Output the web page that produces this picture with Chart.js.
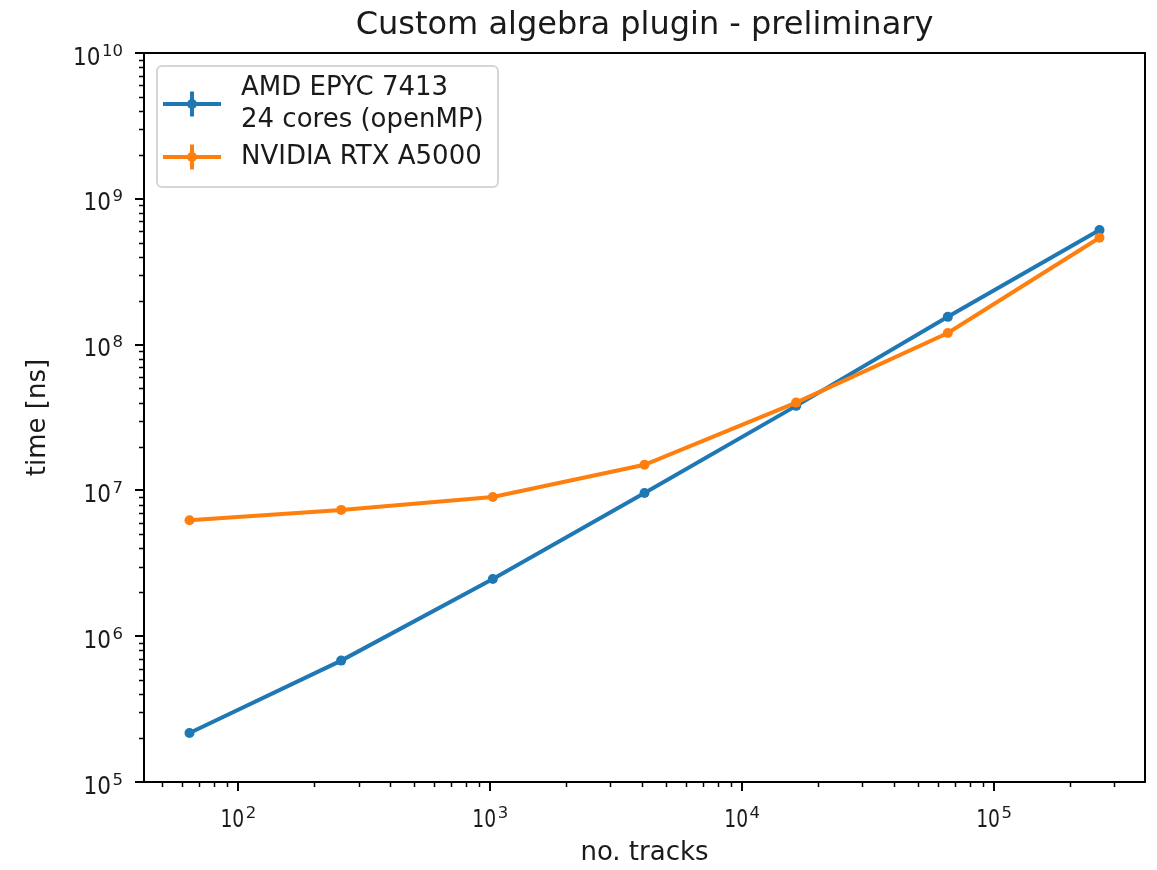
<!DOCTYPE html>
<html>
<head>
<meta charset="utf-8">
<script src="https://cdn.jsdelivr.net/npm/chart.js@4/dist/chart.umd.min.js"></script>
<style>
  html, body { margin: 0; padding: 0; background: #fff; }
  #wrap { width: 1157px; height: 870px; }
</style>
</head>
<body>
<div id="wrap"><canvas id="c" width="1157" height="870"></canvas></div>
<script>
// ---- data ----
const tracks = [64, 256, 1024, 4096, 16384, 65536, 262144];
const cpuTimes = [2.17e5, 6.8e5, 2.47e6, 9.6e6, 3.8e7, 1.55e8, 6.1e8];
const gpuTimes = [6.25e6, 7.35e6, 9.0e6, 1.5e7, 4.0e7, 1.2e8, 5.4e8];
const seriesLabels = ['AMD EPYC 7413\n24 cores (openMP)', 'NVIDIA RTX A5000'];
const xTickValues = [1e2, 1e3, 1e4, 1e5];
const xTickExponents = ['2', '3', '4', '5'];
const yTickValues = [1e5, 1e6, 1e7, 1e8, 1e9, 1e10];
const yTickExponents = ['5', '6', '7', '8', '9', '10'];
const tickBase = '10';
const titleText = 'Custom algebra plugin - preliminary';
const xTitle = 'no. tracks';
const yTitle = 'time [ns]';

// matplotlib-like 5% margin in log space for x
const lx0 = Math.log10(Math.min(...tracks)), lx1 = Math.log10(Math.max(...tracks));
const mrg = (lx1 - lx0) * 0.05;
const xMin = Math.pow(10, lx0 - mrg), xMax = Math.pow(10, lx1 + mrg);
const yMin = yTickValues[0], yMax = yTickValues[yTickValues.length - 1];

const BLUE = '#1f77b4', ORANGE = '#ff7f0e';
const FONT = "'DejaVu Sans', 'Liberation Sans', sans-serif";
const TXT = '#1a1a1a';

const toPts = (xs, ys) => xs.map((x, i) => ({ x: x, y: ys[i] }));

// draw "10^e" label; anchor: 'center' (x axis) or 'right' (y axis)
function drawPow(ctx, x, baseline, exp, anchor, sx) {
  ctx.font = '24px ' + FONT;
  const bw = ctx.measureText(tickBase).width * sx;
  ctx.font = '16.5px ' + FONT;
  const ew = ctx.measureText(exp).width;
  const gap = 1.5;
  const total = bw + gap + ew;
  const left = anchor === 'center' ? x - total / 2 : x - total;
  ctx.save();
  ctx.translate(left, baseline);
  ctx.scale(sx, 1);
  ctx.font = '24px ' + FONT;
  ctx.fillText(tickBase, 0, 0);
  ctx.restore();
  ctx.font = '16.5px ' + FONT;
  ctx.fillText(exp, left + bw + gap, baseline - 9);
}

const framePlugin = {
  id: 'frame',
  afterDraw(chart) {
    const { ctx, chartArea: a } = chart;
    const xs = chart.scales.x, ys = chart.scales.y;
    ctx.save();
    ctx.strokeStyle = '#000';
    // minor ticks
    ctx.lineWidth = 1.5;
    ctx.beginPath();
    for (let e = Math.floor(Math.log10(xMin)); e <= Math.ceil(Math.log10(xMax)); e++) {
      for (let k = 2; k <= 9; k++) {
        const v = k * Math.pow(10, e);
        if (v < xMin || v > xMax) continue;
        const px = Math.round(xs.getPixelForValue(v)) + 0.5;
        ctx.moveTo(px, a.bottom); ctx.lineTo(px, a.bottom + 5);
      }
    }
    for (let e = Math.floor(Math.log10(yMin)); e <= Math.ceil(Math.log10(yMax)); e++) {
      for (let k = 2; k <= 9; k++) {
        const v = k * Math.pow(10, e);
        if (v < yMin || v > yMax) continue;
        const py = Math.round(ys.getPixelForValue(v)) + 0.5;
        ctx.moveTo(a.left, py); ctx.lineTo(a.left - 5, py);
      }
    }
    ctx.stroke();
    // major ticks
    ctx.lineWidth = 2;
    ctx.beginPath();
    xTickValues.forEach(v => {
      const px = Math.round(xs.getPixelForValue(v));
      ctx.moveTo(px, a.bottom); ctx.lineTo(px, a.bottom + 9);
    });
    yTickValues.forEach(v => {
      const py = Math.round(ys.getPixelForValue(v));
      ctx.moveTo(a.left, py); ctx.lineTo(a.left - 9, py);
    });
    ctx.stroke();
    // spines
    ctx.strokeRect(a.left, a.top, a.right - a.left, a.bottom - a.top);

    // tick labels
    ctx.fillStyle = TXT;
    ctx.textAlign = 'left';
    ctx.textBaseline = 'alphabetic';
    xTickValues.forEach((v, i) => {
      drawPow(ctx, xs.getPixelForValue(v), a.bottom + 45, xTickExponents[i], 'center', 0.78);
    });
    yTickValues.forEach((v, i) => {
      drawPow(ctx, a.left - 21, ys.getPixelForValue(v) + 11.5, yTickExponents[i], 'right', 0.9);
    });

    // title (centred over the axes like matplotlib)
    ctx.font = '32px ' + FONT;
    ctx.textAlign = 'center';
    ctx.textBaseline = 'middle';
    ctx.fillText(titleText, (a.left + a.right) / 2, 26);

    // legend
    const bx = 157, by = 66, bw = 341, bh = 121, r = 5;
    ctx.beginPath();
    ctx.moveTo(bx + r, by);
    ctx.arcTo(bx + bw, by, bx + bw, by + bh, r);
    ctx.arcTo(bx + bw, by + bh, bx, by + bh, r);
    ctx.arcTo(bx, by + bh, bx, by, r);
    ctx.arcTo(bx, by, bx + bw, by, r);
    ctx.closePath();
    ctx.fillStyle = 'rgba(255,255,255,0.8)';
    ctx.fill();
    ctx.strokeStyle = '#d5d5d5';
    ctx.lineWidth = 2;
    ctx.stroke();

    const entries = chart.data.datasets.map(d => ({ lines: d.label.split('\n'), color: d.borderColor }));
    const lineH = 32;
    let yCur = by + 22;
    ctx.font = '26px ' + FONT;
    ctx.textBaseline = 'middle';
    ctx.textAlign = 'left';
    entries.forEach(en => {
      const n = en.lines.length;
      const cy = yCur + (n - 1) * lineH / 2;
      ctx.strokeStyle = en.color;
      ctx.lineWidth = 4;
      ctx.beginPath();
      ctx.moveTo(163, cy); ctx.lineTo(221, cy);
      ctx.moveTo(192, cy - 12.5); ctx.lineTo(192, cy + 12.5);
      ctx.stroke();
      ctx.fillStyle = en.color;
      ctx.beginPath(); ctx.arc(192, cy, 5, 0, Math.PI * 2); ctx.fill();
      ctx.fillStyle = TXT;
      en.lines.forEach((t, i) => ctx.fillText(t, 241, yCur + i * lineH));
      yCur += n * lineH + 5;
    });
    ctx.restore();
  }
};

new Chart(document.getElementById('c'), {
  type: 'scatter',
  data: {
    datasets: [
      {
        label: seriesLabels[0],
        data: toPts(tracks, cpuTimes),
        showLine: true,
        borderColor: BLUE, backgroundColor: BLUE,
        borderWidth: 4, pointRadius: 5, pointBorderWidth: 0,
        pointBackgroundColor: BLUE, order: 1
      },
      {
        label: seriesLabels[1],
        data: toPts(tracks, gpuTimes),
        showLine: true,
        borderColor: ORANGE, backgroundColor: ORANGE,
        borderWidth: 4, pointRadius: 5, pointBorderWidth: 0,
        pointBackgroundColor: ORANGE, order: 0
      }
    ]
  },
  options: {
    responsive: false,
    animation: false,
    devicePixelRatio: 1,
    layout: { padding: { left: 0, right: 12, top: 53, bottom: 0 } },
    plugins: {
      legend: { display: false },
      tooltip: { enabled: false },
      title: { display: false }
    },
    scales: {
      x: {
        type: 'logarithmic', min: xMin, max: xMax,
        afterBuildTicks: s => { s.ticks = xTickValues.map(v => ({ value: v, major: true })); },
        afterFit: s => { s.height = 88; },
        ticks: { display: false },
        grid: { display: false },
        border: { display: false },
        title: {
          display: true, text: xTitle, color: TXT,
          font: { family: FONT, size: 26, lineHeight: 1 },
          padding: { top: 0, bottom: 4 }
        }
      },
      y: {
        type: 'logarithmic', min: yMin, max: yMax,
        afterBuildTicks: s => { s.ticks = yTickValues.map(v => ({ value: v, major: true })); },
        afterFit: s => { s.width = 144; },
        ticks: { display: false },
        grid: { display: false },
        border: { display: false },
        title: {
          display: true, text: yTitle, color: TXT,
          font: { family: FONT, size: 26, lineHeight: 1 },
          padding: { top: 25, bottom: 0 }
        }
      }
    }
  },
  plugins: [framePlugin]
});
</script>
</body>
</html>
